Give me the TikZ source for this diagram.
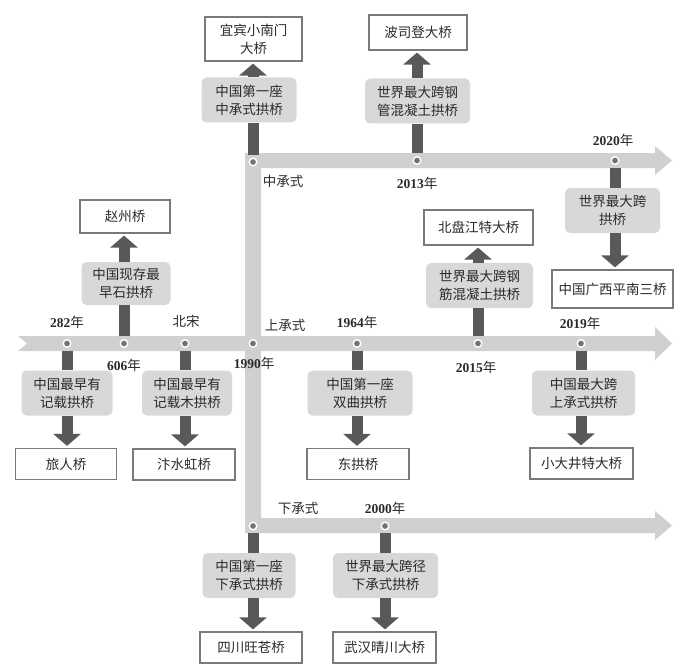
\documentclass[tikz,border=0pt]{standalone}
\usepackage{fontspec}
\setmainfont{Noto Sans CJK SC}
\newfontfamily\yearfont{Liberation Serif}
\usepackage{xcolor}
\usetikzlibrary{arrows.meta}
\definecolor{bandgrey}{HTML}{D0D0D0}
\definecolor{boxgrey}{HTML}{D8D8D8}
\definecolor{framegrey}{HTML}{7A7A7A}
\definecolor{arrowgrey}{HTML}{595959}
\definecolor{inkgrey}{HTML}{2A2A2A}
\newcommand{\yr}[1]{{\yearfont\bfseries #1}年}

\begin{document}
\begin{tikzpicture}[x=1pt, y=-1pt, font=\fontsize{13.5}{18}\selectfont, text=inkgrey,
    band/.style={fill=bandgrey},
    dot/.style={circle, fill=black!55, draw=white, line width=1.4pt, inner sep=0pt, minimum size=7.5pt},
    stage/.style={fill=boxgrey, rounded corners=5pt, align=center, minimum height=45pt, inner sep=2pt},
    bridge/.style={draw=framegrey, line width=1.2pt, fill=white, align=center, minimum height=31pt, inner sep=2pt},
    stem/.style={draw=arrowgrey, line width=11pt, shorten <=3pt},
    push/.style={draw=arrowgrey, line width=11pt, -{Triangle[width=27pt,length=12pt]}, shorten >=2pt}]
\useasboundingbox (0,0) rectangle (700,671);

% the three bands
\fill[band] (18,336) -- (655,336) -- (655,327) -- (672,343.5) -- (655,360) -- (655,351)
   -- (18,351) -- (27,343.5) -- cycle;
\fill[band] (245,153) -- (655,153) -- (655,146) -- (672,160.5) -- (655,175) -- (655,168)
   -- (261,168) -- (261,518) -- (655,518) -- (655,511) -- (672,525.5) -- (655,540) -- (655,533)
   -- (245,533) -- cycle;

% dots
\node[dot] (d282) at (67,343.5) {};
\node[dot] (d606) at (124,343.5) {};
\node[dot] (dSong) at (185,343.5) {};
\node[dot] (dUp) at (253,343.5) {};
\node[dot] (d1964) at (357,343.5) {};
\node[dot] (d2015) at (478,343.5) {};
\node[dot] (d2019) at (581,343.5) {};
\node[dot] (dMid) at (253,162) {};
\node[dot] (d2013) at (417,160.5) {};
\node[dot] (d2020) at (615,160.5) {};
\node[dot] (dLow) at (253,526) {};
\node[dot] (d2000) at (385,526) {};

% labels
\node (l282) at (67,322) {\yr{282}};
\node (l606) at (124,365) {\yr{606}};
\node (lSong) at (186,321) {北宋};
\node (l1990) at (254,363) {\yr{1990}};
\node (lUp) at (285,325) {上承式};
\node (l1964) at (357,322) {\yr{1964}};
\node (l2015) at (476,367) {\yr{2015}};
\node (l2019) at (580,323) {\yr{2019}};
\node (lMid) at (283,181) {中承式};
\node (l2013) at (417,183) {\yr{2013}};
\node (l2020) at (613,140) {\yr{2020}};
\node (lLow) at (298,508) {下承式};
\node (l2000) at (385,508) {\yr{2000}};

% stages and bridges
\node[stage, minimum width=91pt] (b282) at (67,393) {中国最早有\\记载拱桥};
\node[bridge, minimum width=101pt] (r282) at (66,464) {旅人桥};
\node[stage, minimum width=89pt, minimum height=43pt] (b606) at (126,283.5) {中国现存最\\早石拱桥};
\node[bridge, minimum width=90pt, minimum height=33pt] (r606) at (125,216.5) {赵州桥};
\node[stage, minimum width=90pt] (bSong) at (187,393) {中国最早有\\记载木拱桥};
\node[bridge, minimum width=102pt] (rSong) at (184,464.5) {汴水虹桥};
\node[stage, minimum width=95pt] (bMid) at (249,100) {中国第一座\\中承式拱桥};
\node[bridge, minimum width=97pt, minimum height=44pt] (rMid) at (253.5,39) {宜宾小南门\\大桥};
\node[stage, minimum width=93pt] (bLow) at (249,575.5) {中国第一座\\下承式拱桥};
\node[bridge, minimum width=102pt] (rLow) at (251,647.5) {四川旺苍桥};
\node[stage, minimum width=105pt] (b1964) at (360,393) {中国第一座\\双曲拱桥};
\node[bridge, minimum width=102pt] (r1964) at (358,464) {东拱桥};
\node[stage, minimum width=107pt] (b2015) at (479.5,285.5) {世界最大跨钢\\筋混凝土拱桥};
\node[bridge, minimum width=109pt, minimum height=35pt] (r2015) at (478.5,227.5) {北盘江特大桥};
\node[stage, minimum width=103pt] (b2019) at (583.5,393) {中国最大跨\\上承式拱桥};
\node[bridge, minimum width=103pt] (r2019) at (581.5,463.5) {小大井特大桥};
\node[stage, minimum width=105pt] (b2013) at (417.5,101) {世界最大跨钢\\管混凝土拱桥};
\node[bridge, minimum width=98pt, minimum height=35pt] (r2013) at (418,32.5) {波司登大桥};
\node[stage, minimum width=95pt] (b2020) at (612.5,210.5) {世界最大跨\\拱桥};
\node[bridge, minimum width=121pt, minimum height=38pt] (r2020) at (612.5,289) {中国广西平南三桥};
\node[stage, minimum width=105pt] (b2000) at (385.5,575.5) {世界最大跨径\\下承式拱桥};
\node[bridge, minimum width=103pt] (r2000) at (384.5,647.5) {武汉晴川大桥};

% arrows
\foreach \ev in {282,Song,1964,2019,2020,Low,2000}
  {\draw[stem] (d\ev) -- (d\ev |- b\ev.north);
   \draw[push] (d\ev |- b\ev.south) -- (d\ev |- r\ev.north);}
\foreach \ev in {606,Mid,2013,2015}
  {\draw[stem] (d\ev) -- (d\ev |- b\ev.south);
   \draw[push] (d\ev |- b\ev.north) -- (d\ev |- r\ev.south);}

\end{tikzpicture}
\end{document}
